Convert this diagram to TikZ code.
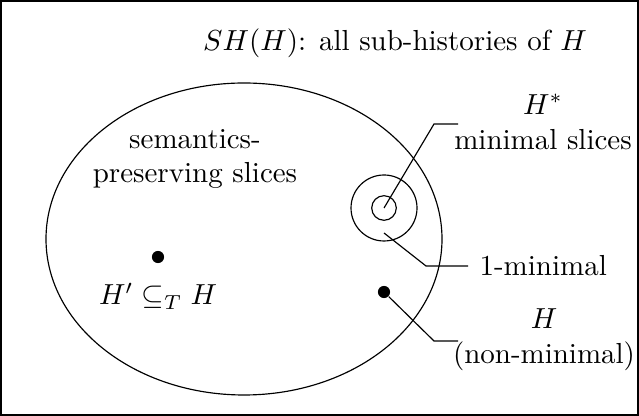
\documentclass[tikz,border=0pt]{standalone}
\usepackage{amssymb}
\usetikzlibrary{shapes.geometric}
\begin{document}
\begin{tikzpicture}[x=0.345pt,y=-0.345pt,
  lbl/.style={align=center,inner sep=1pt},
  dotn/.style={circle,fill=black,inner sep=0pt,minimum size=4.2pt},
  conn/.style={line width=0.4pt}]
\useasboundingbox (0,0) rectangle (639,416);
\draw[line width=0.5pt] (1,1) rectangle (638,415);
\node[lbl] (title) at (395,43) {$SH(H)$: all sub-histories of $H$};
\node[draw,ellipse,minimum width=396*0.345pt,minimum height=312*0.345pt,inner sep=0pt] (ell) at (244,239) {};
\node[lbl] (sem) at (195,159) {semantics-\\preserving slices};
\node[dotn] (hp) at (158,257) {};
\node[lbl] (hpl) at (158,296) {$H' \subseteq_T H$};
\node[draw,circle,minimum size=66*0.345pt,inner sep=0pt] (big) at (384,208) {};
\node[draw,circle,minimum size=24.6*0.345pt,inner sep=0pt] (small) at (384,208) {};
\coordinate (c1) at (434,124);
\coordinate (c1e) at (458,124);
\node[lbl] (hstar) at (543,122) {$H^*$\\minimal slices};
\draw[conn] (small.center) -- (c1) -- (c1e);
\coordinate (src2) at (384,233);
\coordinate (c2) at (426,266);
\node[anchor=west,inner sep=11*0.345pt] (onemin) at (468,266) {1-minimal};
\draw[conn] (src2) -- (c2) -- (onemin.west);
\node[dotn] (h) at (384,292) {};
\coordinate (c3) at (434,341);
\coordinate (c3e) at (458,341);
\node[lbl] (hl) at (544,340) {$H$\\(non-minimal)};
\draw[conn] (h) -- (c3) -- (c3e);
\end{tikzpicture}
\end{document}
